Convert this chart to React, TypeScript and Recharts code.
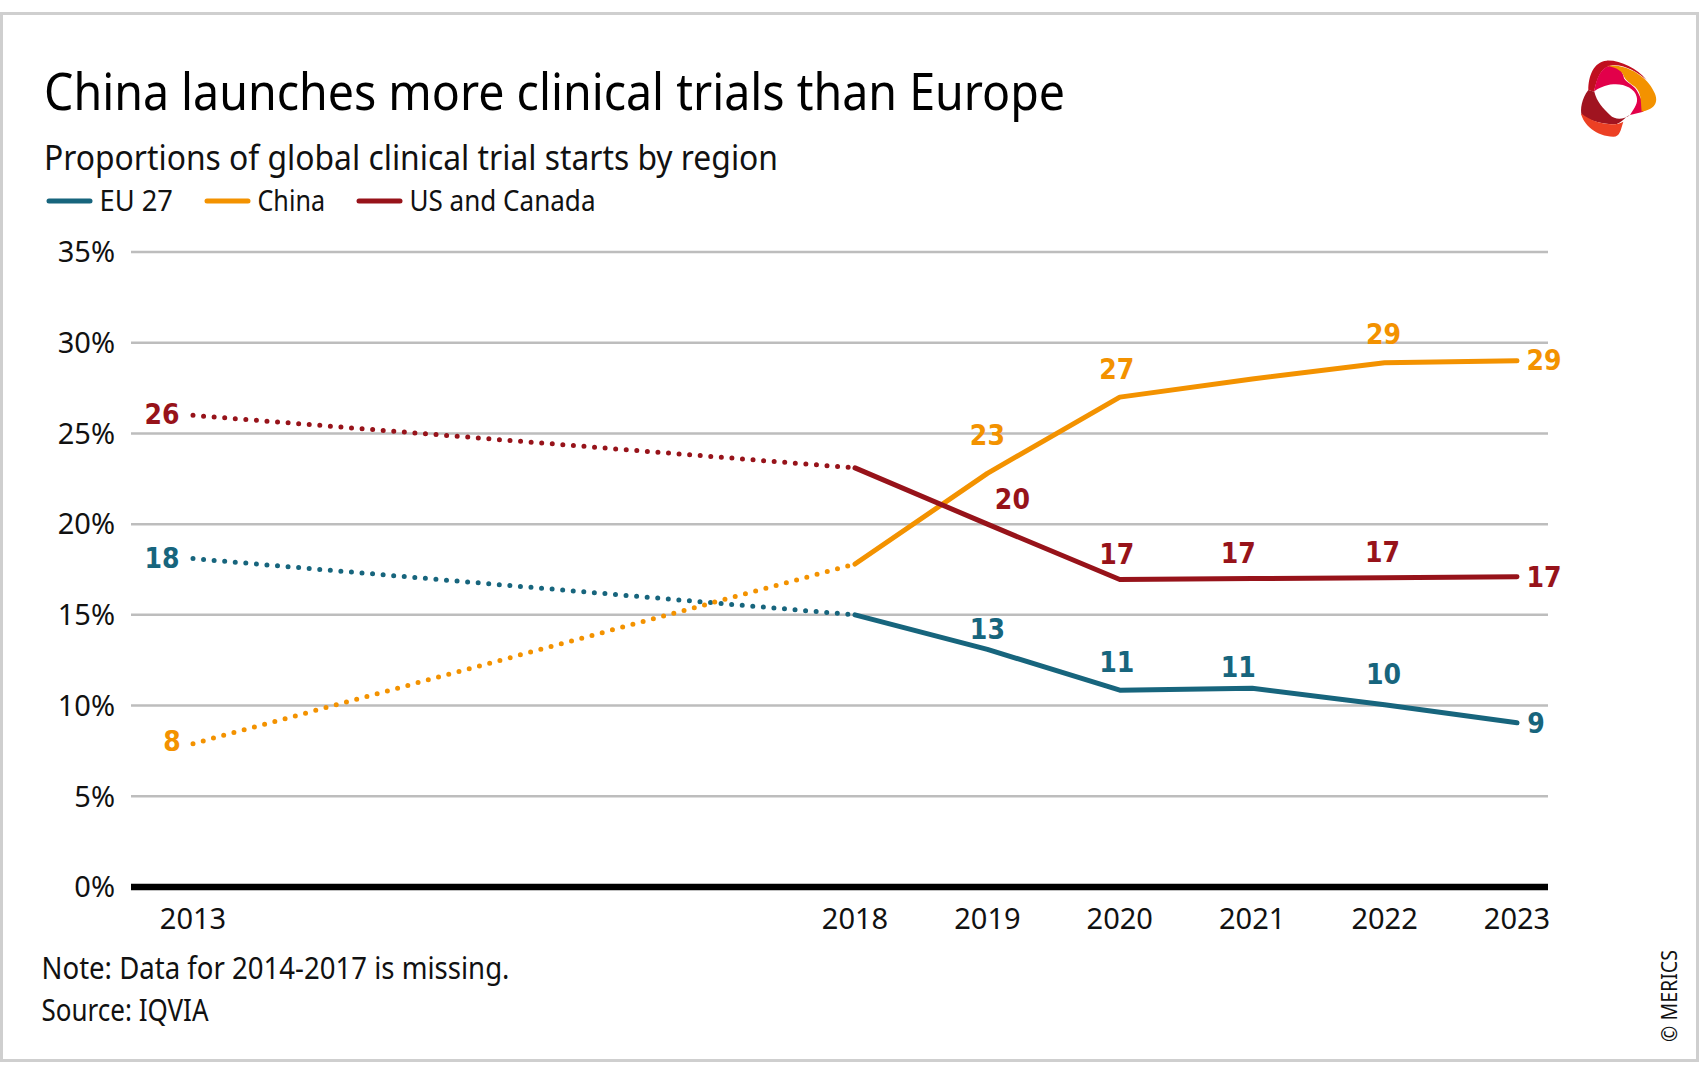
import React from "react";
import { LineChart, Line, XAxis, YAxis, CartesianGrid, LabelList, Legend } from "recharts";

const years = [2013, 2018, 2019, 2020, 2021, 2022, 2023];
const yTicks = [0, 5, 10, 15, 20, 25, 30, 35];

// reported years
const euValues = [null, 15, 13.1, 10.85, 10.95, 10.05, 9.05];
const chinaValues = [null, 17.8, 22.8, 27, 28, 28.9, 29];
const usValues = [null, 23.1, 20, 16.95, 17, 17.05, 17.1];

// 2013 to 2018, years in between are missing so these are dotted
const euGap = [18.1, 15, null, null, null, null, null];
const chinaGap = [7.9, 17.8, null, null, null, null, null];
const usGap = [26, 23.1, null, null, null, null, null];

// printed value labels, the chart leaves some out
const euLabels = ["18", null, "13", "11", "11", "10", "9"];
const chinaLabels = ["8", null, "23", "27", null, "29", "29"];
const usLabels = ["26", null, "20", "17", "17", "17", "17"];

const EU = "#17657d";
const CHINA = "#f39200";
const US = "#97131a";
const FONT = '"Noto Sans", sans-serif';
const TEXT = "#111";

const rows = years.map((year, i) => ({
  year,
  eu: euValues[i],
  china: chinaValues[i],
  us: usValues[i],
  euGap: euGap[i],
  chinaGap: chinaGap[i],
  usGap: usGap[i],
}));

// label offset from its point, [dx, dy] per year
const euOffsets = [[-31, 0], null, [0, -20], [-3, -28], [-14, -21], [-1, -30], [19, 1]];
const chinaOffsets = [[-21, -2], null, [0, -38], [-3, -28], null, [-1, -28], [27, 0]];
const usOffsets = [[-31, -1], null, [25, -25], [-3, -25], [-14, -25], [-2, -25], [27, 1]];

function valueLabel(texts: (string | null)[], offsets: (number[] | null)[], color: string) {
  return (props: any) => {
    const { x, y, index, value } = props;
    const text = texts[index];
    const off = offsets[index];
    if (!text || !off || value == null) return null;
    return (
      <text
        x={x + off[0]}
        y={y + off[1]}
        textAnchor="middle"
        dominantBaseline="central"
        fill={color}
        style={{ fontFamily: '"DejaVu Sans", sans-serif', fontStretch: "condensed", fontWeight: 700, fontSize: 28 }}
      >
        {text}
      </text>
    );
  };
}

function LegendRow({ payload }: any) {
  const swatches = [47, 205, 357];
  const widths = [73.5, 67.5, 186];
  const items = (payload || []).filter((p: any) => p.type !== "none");
  return (
    <svg width={700} height={40} style={{ display: "block" }}>
      {items.map((p: any, i: number) => (
        <g key={p.value}>
          <line x1={swatches[i] + 2} x2={swatches[i] + 43} y1={21} y2={21} stroke={p.color} strokeWidth={5} strokeLinecap="round" />
          <text
            x={swatches[i] + 52.5}
            y={30.5}
            textLength={widths[i]}
            lengthAdjust="spacingAndGlyphs"
            fill={TEXT}
            style={{ fontFamily: FONT, fontSize: 29, fontWeight: 400 }}
          >
            {p.value}
          </text>
        </g>
      ))}
    </svg>
  );
}

function Logo() {
  return (
    <g transform="translate(1450 0) scale(0.3333)">
      <path d="M415,270 C415,230 430,185 470,182 C510,180 560,205 590,240 C560,215 520,190 480,197 C450,205 440,240 432,275 Z" fill="#c00f1f" />
      <path d="M432,275 C440,235 450,205 480,197 C505,197 520,215 522,235 C530,250 555,255 565,280 C575,300 585,320 580,335 L540,345 C555,320 565,310 560,290 C555,265 520,250 490,253 C465,255 445,265 432,275 Z" fill="#e2004a" />
      <path d="M470,198 C520,188 590,225 612,275 C630,310 610,328 575,335 C572,300 575,280 555,260 C540,250 525,240 520,225 C515,210 490,200 470,198 Z" fill="#f39200" />
      <path d="M415,270 C395,295 390,330 395,345 C420,365 470,375 500,372 C520,365 525,350 540,345 C520,360 495,360 480,345 C460,325 440,305 433,275 Z" fill="#a01420" />
      <path d="M393,340 C400,375 440,410 490,410 C510,410 512,390 520,365 C500,378 440,378 393,340 Z" fill="#ec4024" />
    </g>
  );
}

export default function App() {
  const dotted = { strokeWidth: 5, strokeDasharray: "0 10.6", strokeLinecap: "round" as const, dot: false, legendType: "none" as const, isAnimationActive: false };
  const solid = { strokeWidth: 5, strokeLinecap: "round" as const, strokeLinejoin: "round" as const, dot: false, isAnimationActive: false };
  const tickStyle = { fontFamily: FONT, fontSize: 29, fontWeight: 400, fill: TEXT };

  return (
    <div style={{ position: "absolute", left: 0, top: 0, width: 1700, height: 1067, background: "#fff", overflow: "hidden" }}>
      <div style={{ position: "absolute", left: 0, top: 12, width: 1699, height: 1050, border: "3px solid #cfcfcf", boxSizing: "border-box" }} />

      <LineChart
        width={1700}
        height={1067}
        data={rows}
        margin={{ top: 252, right: 152, bottom: 80, left: 31 }}
        style={{ position: "absolute", left: 0, top: 0 }}
      >
        <CartesianGrid horizontal vertical={false} stroke="#bdbdbd" strokeWidth={2.5} />
        <XAxis
          type="number"
          dataKey="year"
          domain={[2013, 2023]}
          ticks={years}
          padding={{ left: 62, right: 31 }}
          allowDecimals={false}
          height={60}
          tick={tickStyle}
          tickLine={false}
          tickMargin={15}
          axisLine={{ stroke: "#000", strokeWidth: 6.5 }}
        />
        <YAxis
          type="number"
          domain={[0, 35]}
          ticks={yTicks}
          width={100}
          tick={tickStyle}
          tickLine={false}
          axisLine={false}
          tickMargin={10}
          tickFormatter={(v) => `${v}%`}
        />
        <Legend
          content={<LegendRow />}
          itemSorter={null}
          layout="horizontal"
          wrapperStyle={{ position: "absolute", left: 0, top: 180, width: 700, height: 40 }}
        />

        <Line dataKey="euGap" stroke={EU} {...dotted}>
          <LabelList dataKey="euGap" content={valueLabel(euLabels, euOffsets, EU)} />
        </Line>
        <Line dataKey="chinaGap" stroke={CHINA} {...dotted}>
          <LabelList dataKey="chinaGap" content={valueLabel(chinaLabels, chinaOffsets, CHINA)} />
        </Line>
        <Line dataKey="usGap" stroke={US} {...dotted}>
          <LabelList dataKey="usGap" content={valueLabel(usLabels, usOffsets, US)} />
        </Line>

        <Line dataKey="eu" name="EU 27" stroke={EU} {...solid}>
          <LabelList dataKey="eu" content={valueLabel(euLabels, euOffsets, EU)} />
        </Line>
        <Line dataKey="china" name="China" stroke={CHINA} {...solid}>
          <LabelList dataKey="china" content={valueLabel(chinaLabels, chinaOffsets, CHINA)} />
        </Line>
        <Line dataKey="us" name="US and Canada" stroke={US} {...solid}>
          <LabelList dataKey="us" content={valueLabel(usLabels, usOffsets, US)} />
        </Line>
      </LineChart>

      <svg width={1700} height={1067} style={{ position: "absolute", left: 0, top: 0, pointerEvents: "none" }}>
        <text x={44} y={110} textLength={1021} lengthAdjust="spacingAndGlyphs" fill="#000" style={{ fontFamily: FONT, fontSize: 51, fontWeight: 400 }}>
          China launches more clinical trials than Europe
        </text>
        <text x={44} y={170} textLength={734} lengthAdjust="spacingAndGlyphs" fill={TEXT} style={{ fontFamily: FONT, fontSize: 34, fontWeight: 400 }}>
          Proportions of global clinical trial starts by region
        </text>
        <text x={41.5} y={979} textLength={468} lengthAdjust="spacingAndGlyphs" fill={TEXT} style={{ fontFamily: FONT, fontSize: 30, fontWeight: 400 }}>
          Note: Data for 2014-2017 is missing.
        </text>
        <text x={41.5} y={1020.5} textLength={167} lengthAdjust="spacingAndGlyphs" fill={TEXT} style={{ fontFamily: FONT, fontSize: 30, fontWeight: 400 }}>
          Source: IQVIA
        </text>
        <text transform="translate(1677 1042) rotate(-90)" textLength={92} lengthAdjust="spacingAndGlyphs" fill={TEXT} style={{ fontFamily: FONT, fontSize: 22, fontWeight: 400 }}>
          © MERICS
        </text>
        <Logo />
      </svg>
    </div>
  );
}
